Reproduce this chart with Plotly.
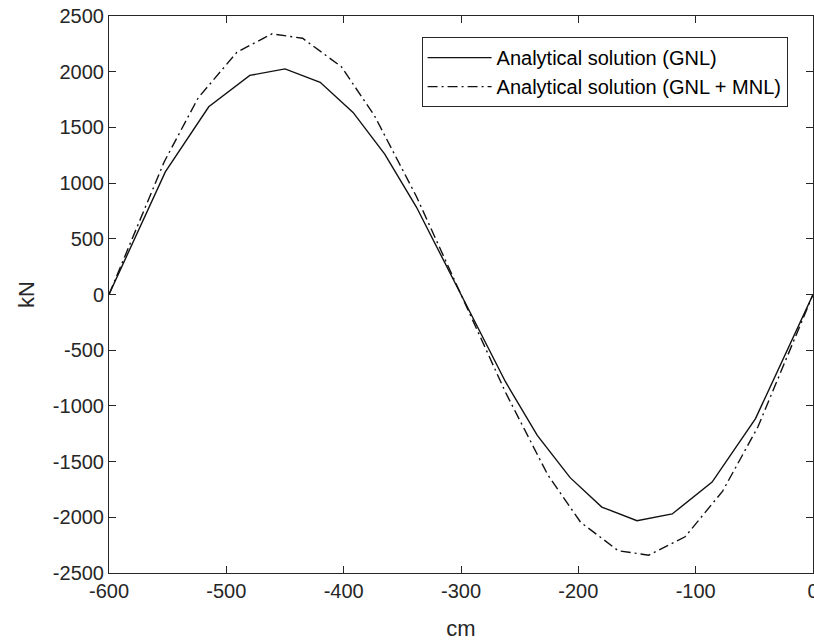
import plotly.graph_objects as go

# Data
gnl_x = [-600, -552, -515, -480, -450, -420, -392, -365, -338, -300,
         -262, -235, -207, -180, -150, -120, -86, -49, 0]
gnl_y = [0, 1100, 1685, 1967, 2025, 1905, 1635, 1260, 785, 0,
         -785, -1264, -1644, -1908, -2031, -1970, -1684, -1114, 0]

mnl_x = [-600, -553, -524, -491, -461, -435, -402, -374, -338, -300,
         -262, -226, -198, -166, -140, -109, -77, -47, 0]
mnl_y = [0, 1190, 1765, 2175, 2340, 2300, 2045, 1610, 880, 0,
         -880, -1620, -2045, -2300, -2340, -2175, -1765, -1190, 0]

x_ticks = [-600, -500, -400, -300, -200, -100, 0]
x_tick_labels = ["-600", "-500", "-400", "-300", "-200", "-100", "0"]
y_ticks = [-2500, -2000, -1500, -1000, -500, 0, 500, 1000, 1500, 2000, 2500]
y_tick_labels = ["-2500", "-2000", "-1500", "-1000", "-500", "0",
                 "500", "1000", "1500", "2000", "2500"]

series_names = ["Analytical solution (GNL)", "Analytical solution (GNL + MNL)"]

FONT = "Liberation Sans, Arial, sans-serif"
AXC = "#262626"

fig = go.Figure()
fig.add_trace(go.Scatter(x=gnl_x, y=gnl_y, mode="lines", name=series_names[0],
                         line=dict(color="#111111", width=1.4)))
fig.add_trace(go.Scatter(x=mnl_x, y=mnl_y, mode="lines", name=series_names[1],
                         line=dict(color="#111111", width=1.4, dash="10px,4px,2px,4px")))

axis_common = dict(
    showline=True, linecolor=AXC, linewidth=1, mirror="ticks",
    ticks="inside", ticklen=7, tickcolor=AXC, tickwidth=1,
    showgrid=False, zeroline=False, automargin=False,
    ticklabeloverflow="allow",
    tickfont=dict(family=FONT, size=20, color=AXC),
)

fig.update_xaxes(range=[-600, 0], tickvals=x_ticks, ticktext=x_tick_labels,
                 title=dict(text="cm", font=dict(family=FONT, size=22, color=AXC), standoff=19),
                 **axis_common)
fig.update_yaxes(range=[-2500, 2500], tickvals=y_ticks, ticktext=y_tick_labels,
                 title=dict(text="kN", font=dict(family=FONT, size=22, color=AXC), standoff=12),
                 **axis_common)

fig.update_layout(
    width=814, height=643,
    margin=dict(l=109, r=1, t=16, b=70),
    paper_bgcolor="white", plot_bgcolor="white",
    showlegend=True,
    legend=dict(
        x=0.444, y=0.962, xanchor="left", yanchor="top",
        bgcolor="white", bordercolor=AXC, borderwidth=1,
        font=dict(family=FONT, size=20, color="#000000"),
        itemwidth=64, tracegroupgap=0,
    ),
)

fig.write_html(
    "out.html",
    config={"displayModeBar": False},
    post_script="document.body.style.margin='0';"
                "document.documentElement.style.overflow='hidden';",
)
